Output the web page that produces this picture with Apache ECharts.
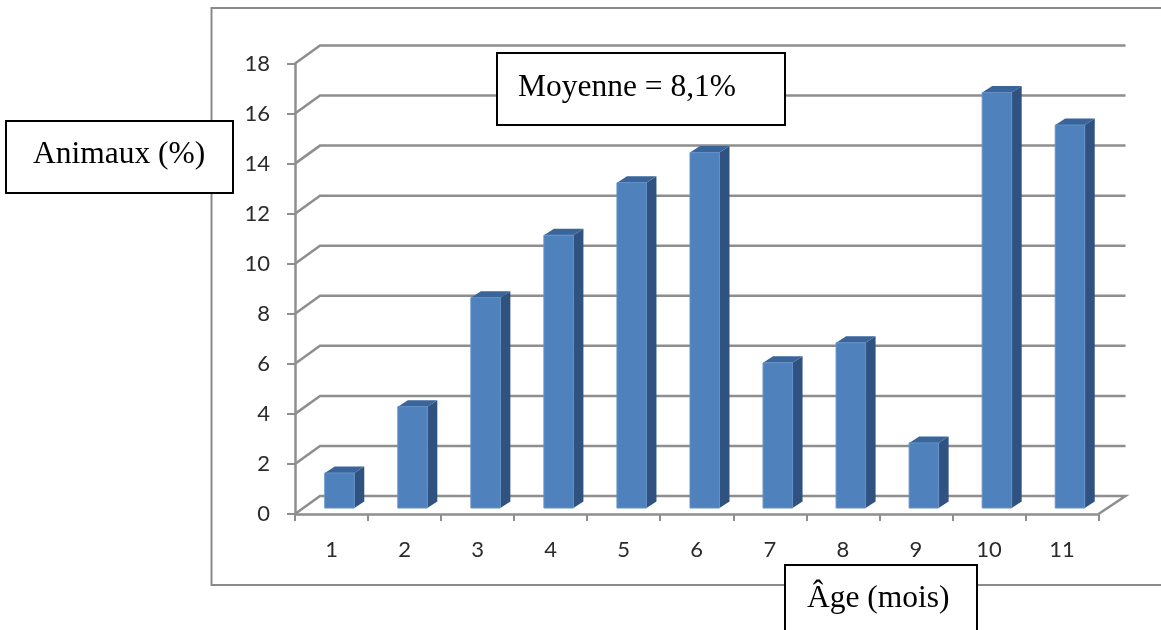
<!DOCTYPE html>
<html>
<head>
<meta charset="utf-8">
<style>html,body{margin:0;padding:0;background:#fff}#c{width:1161px;height:630px}</style>
<script src="https://cdn.jsdelivr.net/npm/echarts@6/dist/echarts.min.js"></script>
</head>
<body>
<div id="c"></div>
<script>
const categories = ['1','2','3','4','5','6','7','8','9','10','11'];
const values = [1.4,4.05,8.4,10.9,13.0,14.2,5.8,6.6,2.6,16.6,15.3];
const gridTicks = [0,2,4,6,8,10,12,14,16,18];
const boxTexts = {yTitle:'Animaux (%)', mean:'Moyenne = 8,1%', xTitle:'Âge (mois)'};

const lineColor = '#8e8e8e';
const wall = {dx:25, dy:-18, extra:2};
const bar = {w:29.5, dx:10, dy:-6.5, ox:8, oy:-6};

const chart = echarts.init(document.getElementById('c'), null, {renderer:'canvas'});

function box(x,y,w,h,text,tx,ty,fs){
  return {type:'group',z:100,children:[
    {type:'rect',z:100,shape:{x:x,y:y,width:w,height:h},style:{fill:'#fff',stroke:'#000',lineWidth:2}},
    {type:'text',z:101,x:tx,y:ty,style:{text:text,fill:'#000',font:fs+'px "Liberation Serif"',textAlign:'left',textVerticalAlign:'middle'}}
  ]};
}

chart.setOption({
  animation:false,
  backgroundColor:'#fff',
  grid:{left:295,top:63.5,width:803.5,height:450.5,containLabel:false},
  xAxis:{type:'category',data:categories,boundaryGap:true,
    axisLine:{lineStyle:{color:lineColor,width:2.5}},
    axisTick:{show:true,length:7,lineStyle:{color:lineColor,width:2},alignWithLabel:false},
    axisLabel:{color:'#2b2b2b',fontFamily:'Lato',fontSize:22,margin:25},
    z:3},
  yAxis:{type:'value',min:0,max:18,interval:2,
    axisLine:{show:true,lineStyle:{color:lineColor,width:2.5}},
    axisTick:{show:true,length:8,lineStyle:{color:lineColor,width:2}},
    axisLabel:{color:'#2b2b2b',fontFamily:'Lato',fontSize:22,margin:25,padding:[4,0,0,0]},
    splitLine:{show:false},
    z:3},
  graphic:[
    {type:'rect',z:-1,shape:{x:211.5,y:8,width:1100,height:577},style:{fill:'none',stroke:'#8a8a8a',lineWidth:2}},
    box(6,121,227,72,boxTexts.yTitle,33,155,31.5),
    box(497,53,288,72,boxTexts.mean,518,88,31.5),
    box(785,565,192,100,boxTexts.xTitle,807,599,31.5)
  ],
  series:[
    {type:'custom',coordinateSystem:'cartesian2d',z:1,silent:true,
     data:gridTicks.map(v=>[0,v]),
     encode:{x:0,y:1},
     renderItem:function(params,api){
       const cs=params.coordSys;
       const y=api.coord([0,api.value(1)])[1];
       const pts=[[cs.x,y],[cs.x+wall.dx,y+wall.dy],[cs.x+cs.width+wall.dx+wall.extra,y+wall.dy]];
       if(api.value(1)===0) pts.push([cs.x+cs.width,y]);
       return {type:'polyline',shape:{points:pts},style:{fill:null,stroke:lineColor,lineWidth:2.5}};
     }},
    {type:'custom',coordinateSystem:'cartesian2d',z:2,silent:true,
     data:values.map((v,i)=>[i,v]),
     encode:{x:0,y:1},
     renderItem:function(params,api){
       const p=api.coord([api.value(0),api.value(1)]);
       const b=api.coord([api.value(0),0]);
       const l=p[0]+bar.ox-bar.w/2, r=l+bar.w;
       const tp=p[1]+bar.oy, bt=b[1]+bar.oy, d=bar;
       return {type:'group',children:[
         {type:'polygon',shape:{points:[[r,tp],[r+d.dx,tp+d.dy],[r+d.dx,bt+d.dy],[r,bt]]},style:{fill:'#2f5280'}},
         {type:'polygon',shape:{points:[[l,tp],[l+d.dx,tp+d.dy],[r+d.dx,tp+d.dy],[r,tp]]},style:{fill:'#3a659b'}},
         {type:'rect',shape:{x:l,y:tp,width:bar.w,height:bt-tp},style:{fill:'#4f81bd',stroke:'#6490c6',lineWidth:1}}
       ]};
     }}
  ]
});
</script>
</body>
</html>
